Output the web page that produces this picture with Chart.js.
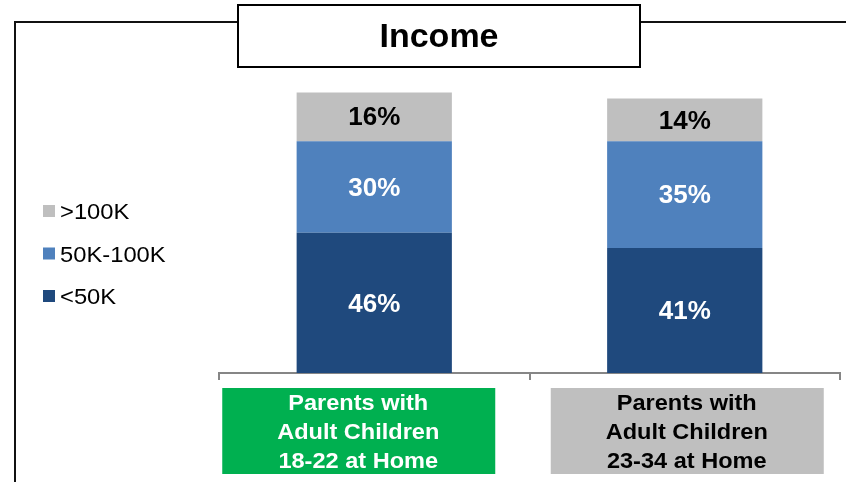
<!DOCTYPE html>
<html>
<head>
<meta charset="utf-8">
<script src="https://cdn.jsdelivr.net/npm/chart.js@4.4.1/dist/chart.umd.min.js"></script>
<style>
  html, body { margin: 0; padding: 0; background: #fff; }
</style>
</head>
<body>
<canvas id="myChart" width="846" height="482"></canvas>
<script>
const groups = [
  ["Parents with", "Adult Children", "18-22 at Home"],
  ["Parents with", "Adult Children", "23-34 at Home"],
];
const under50k = [46, 41];
const mid50to100k = [30, 35];
const over100k = [16, 14];
const title = "Income";

const FONT = "'Liberation Sans', Arial, sans-serif";

const data = {
  labels: groups.map((g) => g.join(" ")),
  datasets: [
    { label: "<50K", data: under50k, backgroundColor: "#1F497D", textColor: "#fff" },
    { label: "50K-100K", data: mid50to100k, backgroundColor: "#4F81BD", textColor: "#fff" },
    { label: ">100K", data: over100k, backgroundColor: "#BFBFBF", textColor: "#000" },
  ],
};

// text drawn a little wider than the font's normal width
function wideText(ctx, text, x, y, sx) {
  ctx.save();
  ctx.translate(x, y);
  ctx.scale(sx, 1);
  ctx.fillText(text, 0, 0);
  ctx.restore();
}

// frame, title box, legend, value labels and category boxes
const decorations = {
  id: "decorations",
  beforeDraw(chart) {
    const ctx = chart.ctx;
    ctx.save();
    ctx.fillStyle = "#fff";
    ctx.fillRect(0, 0, chart.width, chart.height);
    ctx.strokeStyle = "#111";
    ctx.lineWidth = 2;
    ctx.beginPath();
    ctx.moveTo(15, chart.height);
    ctx.lineTo(15, 22);
    ctx.lineTo(chart.width, 22);
    ctx.stroke();
    ctx.restore();
  },
  afterDraw(chart) {
    const ctx = chart.ctx;
    ctx.save();

    // title box
    ctx.fillStyle = "#fff";
    ctx.fillRect(238, 5, 402, 62);
    ctx.strokeStyle = "#000";
    ctx.lineWidth = 2;
    ctx.strokeRect(238, 5, 402, 62);
    ctx.fillStyle = "#000";
    ctx.font = "bold 34px " + FONT;
    ctx.textAlign = "center";
    ctx.textBaseline = "middle";
    ctx.fillText(title, 439, 38);

    // legend, top item first
    ctx.font = "22px " + FONT;
    ctx.textAlign = "left";
    const sets = chart.data.datasets.slice().reverse();
    sets.forEach((ds, i) => {
      const y = 211 + i * 42.5;
      ctx.fillStyle = ds.backgroundColor;
      ctx.fillRect(43, y - 6, 12, 12);
      ctx.fillStyle = "#000";
      wideText(ctx, ds.label, 60, y + 2, 1.08);
    });

    // values inside the segments
    ctx.font = "bold 26px " + FONT;
    ctx.textAlign = "center";
    chart.data.datasets.forEach((ds, di) => {
      const meta = chart.getDatasetMeta(di);
      meta.data.forEach((el, i) => {
        ctx.fillStyle = ds.textColor;
        ctx.fillText(ds.data[i] + "%", el.x, (el.y + el.base) / 2 + 1.5);
      });
    });

    // category boxes under the axis
    const x = chart.scales.x;
    const boxFill = ["#00B050", "#BFBFBF"];
    const boxText = ["#fff", "#000"];
    const shift = [-16, 2];
    ctx.font = "bold 22px " + FONT;
    groups.forEach((lines, i) => {
      const cx = x.getPixelForValue(i) + shift[i];
      ctx.fillStyle = boxFill[i];
      ctx.fillRect(cx - 136, 388, 273, 86);
      ctx.fillStyle = boxText[i];
      lines.forEach((t, li) => wideText(ctx, t, cx, 404 + li * 29, 1.07));
    });

    ctx.restore();
  },
};

const config = {
  type: "bar",
  data,
  options: {
    responsive: false,
    animation: false,
    layout: { padding: { left: 219, right: 6, top: 68, bottom: 102 } },
    datasets: { bar: { categoryPercentage: 1, barPercentage: 0.5 } },
    scales: {
      x: {
        stacked: true,
        ticks: { display: false },
        grid: { drawOnChartArea: false, drawTicks: true, tickLength: 7, color: "#868686", lineWidth: 2 },
        border: { display: true, color: "#868686", width: 2 },
      },
      y: { stacked: true, display: false, min: 0, max: 100 },
    },
    plugins: { legend: { display: false }, tooltip: { enabled: false } },
  },
  plugins: [decorations],
};

var myChart = new Chart(document.getElementById("myChart"), config);
</script>
</body>
</html>
